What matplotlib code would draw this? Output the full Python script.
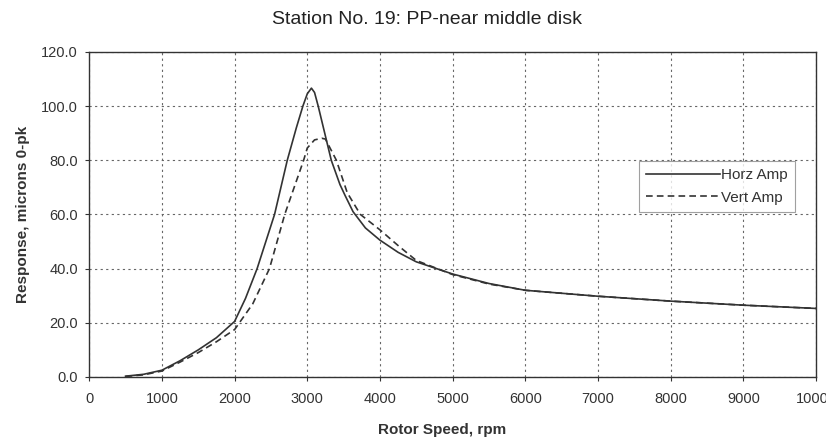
import matplotlib
matplotlib.use("Agg")
import matplotlib.pyplot as plt

plt.rcParams['font.family'] = ['Liberation Sans', 'DejaVu Sans']

horz_rpm = [500, 750, 1000, 1250, 1500, 1750, 2000, 2150, 2310, 2550, 2725, 2850, 2940, 3000, 3057, 3100, 3150, 3330, 3450, 3520, 3630, 3800, 4000, 4250, 4500, 5000, 5500, 6000, 7000, 8000, 9000, 10000]
horz_amp = [0.3, 1.0, 2.5, 6.0, 10.0, 14.5, 20.5, 29.0, 40.0, 60.0, 80.0, 92.0, 100.0, 104.5, 106.6, 105.0, 100.0, 80.0, 71.0, 67.0, 61.0, 55.0, 50.5, 46.0, 42.5, 38.0, 34.5, 32.0, 29.8, 28.0, 26.5, 25.3]

vert_rpm = [500, 750, 1000, 1250, 1500, 1750, 2000, 2250, 2480, 2690, 2820, 2950, 3000, 3100, 3200, 3250, 3400, 3550, 3730, 4000, 4250, 4500, 5000, 5500, 6000, 7000, 8000, 9000, 10000]
vert_amp = [0.2, 0.8, 2.2, 5.5, 9.0, 13.0, 17.5, 27.0, 40.0, 60.0, 70.0, 80.0, 84.5, 87.5, 88.1, 87.8, 80.0, 68.0, 60.0, 54.3, 48.5, 43.0, 37.8, 34.3, 32.0, 29.8, 28.0, 26.5, 25.3]

x_ticks = [0, 1000, 2000, 3000, 4000, 5000, 6000, 7000, 8000, 9000, 10000]
y_ticks = [0, 20, 40, 60, 80, 100, 120]

fig = plt.figure(figsize=(8.26, 4.43), dpi=100)
ax = fig.add_axes([0.108, 0.149, 0.880, 0.734])

ax.plot(horz_rpm, horz_amp, color='#333333', lw=1.2, ls='-', label='Horz Amp')
ax.plot(vert_rpm, vert_amp, color='#333333', lw=1.2, ls=(0, (4, 2.5)), label='Vert Amp')

ax.set_xlim(0, 10000)
ax.set_ylim(0, 120)
ax.set_xticks(x_ticks)
ax.set_xticklabels([str(v) for v in x_ticks], fontsize=10.5, color='#333333')
ax.set_yticks(y_ticks)
ax.set_yticklabels([f"{v:.1f}" for v in y_ticks], fontsize=10.5, color='#333333')
ax.tick_params(axis='x', direction='out', length=3, color='#333333', pad=8)
ax.tick_params(axis='y', direction='out', length=3, color='#333333', pad=5)
ax.grid(True, color='#666666', ls=(0, (2, 3)), lw=0.8)

for s in ax.spines.values():
    s.set_color('#333333')
    s.set_linewidth(1.0)

fig.text(0.517, 0.955, 'Station No. 19: PP-near middle disk', fontsize=14,
         color='#222222', ha='center', va='center')
ax.set_xlabel('Rotor Speed, rpm', fontsize=11, fontweight='bold', color='#333333', labelpad=10)
ax.xaxis.set_label_coords(0.486, -0.14)
ax.set_ylabel('Response, microns 0-pk', fontsize=11, fontweight='bold', color='#333333', labelpad=8)

leg = ax.legend(loc='upper left', bbox_to_anchor=(0.757, 0.663), fontsize=11,
                handlelength=4.8, handletextpad=0.1, borderpad=0.45, labelspacing=0.55,
                fancybox=False, frameon=True, borderaxespad=0.0)
leg.get_frame().set_edgecolor('#888888')
leg.get_frame().set_linewidth(0.8)
for t in leg.get_texts():
    t.set_color('#333333')

fig.savefig('out.png', dpi=100)
